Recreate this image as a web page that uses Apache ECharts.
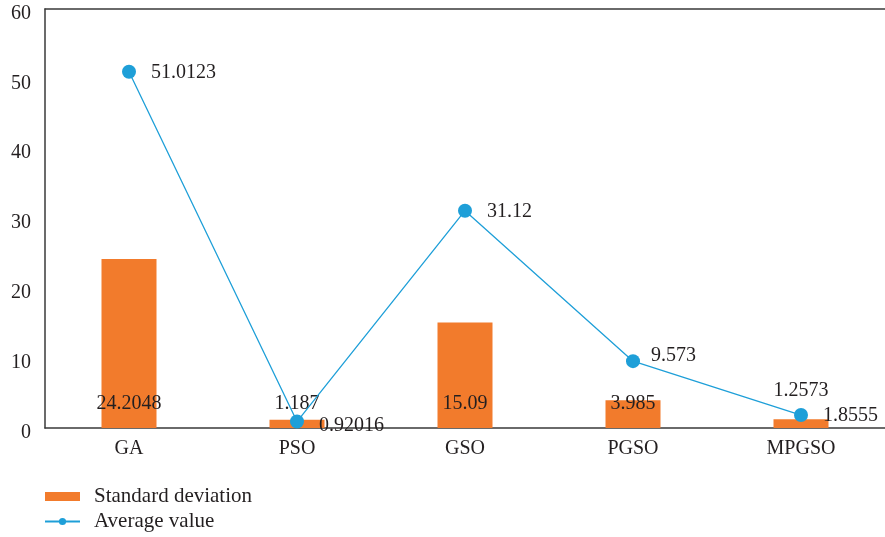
<!DOCTYPE html>
<html><head><meta charset="utf-8">
<script src="https://cdn.jsdelivr.net/npm/echarts@6/dist/echarts.min.js"></script>
<style>html,body{margin:0;padding:0;background:#fff}#c{width:885px;height:537px}</style>
</head><body><div id="c"></div>
<script>
const categories = ['GA', 'PSO', 'GSO', 'PGSO', 'MPGSO'];
const stdDev = [24.2048, 1.187, 15.09, 3.985, 1.2573];
const avgValue = [51.0123, 0.92016, 31.12, 9.573, 1.8555];
const yTicks = [0, 10, 20, 30, 40, 50, 60];

const FONT = "'Liberation Serif', 'DejaVu Serif', serif";
const TXT = '#231f20';
const chart = echarts.init(document.getElementById('c'), null, {renderer: 'canvas'});

const barLabelOffsets = [[0,1],[0,1],[0,1],[0,1],[0,-12]];
const lineLabelOffsets = [[0,1],[0,4],[0,1],[-4,-5],[0,1]];

chart.setOption({
  animation: false,
  textStyle: {fontFamily: FONT},
  grid: {left: 45, right: 0, top: 9, bottom: 109, containLabel: false},
  legend: {
    orient: 'vertical', left: 39, top: 481, itemGap: 4,
    itemWidth: 35, itemHeight: 9,
    textStyle: {fontFamily: FONT, fontSize: 21, color: TXT, padding: [0,0,0,9]},
    data: [
      {name: 'Standard deviation', icon: 'rect'},
      {name: 'Average value'}
    ]
  },
  xAxis: [{
    type: 'category', data: categories, position: 'bottom',
    axisLine: {lineStyle: {color: '#3a3a3a', width: 1.5}},
    axisTick: {show: false},
    axisLabel: {fontFamily: FONT, fontSize: 20, color: TXT, margin: 11}
  }, {
    type: 'category', data: categories, position: 'top',
    axisLine: {show: true, lineStyle: {color: '#3a3a3a', width: 1.5}},
    axisTick: {show: false}, axisLabel: {show: false}
  }],
  yAxis: {
    type: 'value', min: yTicks[0], max: yTicks[yTicks.length-1], interval: 10,
    axisLine: {show: true, lineStyle: {color: '#3a3a3a', width: 1.5}},
    axisTick: {show: false},
    splitLine: {show: false},
    axisLabel: {fontFamily: FONT, fontSize: 20, color: TXT, margin: 14,
      verticalAlign: 'top', lineHeight: 9}
  },
  series: [{
    name: 'Standard deviation', type: 'bar', barWidth: 55,
    itemStyle: {color: '#F27B2C'},
    data: stdDev.map((v, i) => ({value: v, label: {offset: barLabelOffsets[i]}})),
    label: {show: true, position: 'insideBottom', distance: 15,
      fontFamily: FONT, fontSize: 20, color: TXT}
  }, {
    name: 'Average value', type: 'line',
    symbol: 'circle', symbolSize: 14,
    itemStyle: {color: '#1E9FD8'},
    lineStyle: {color: '#1E9FD8', width: 1.3},
    data: avgValue.map((v, i) => ({value: v, label: {offset: lineLabelOffsets[i]}})),
    label: {show: true, position: 'right', distance: 15,
      fontFamily: FONT, fontSize: 20, color: TXT},
    z: 5
  }]
});
</script></body></html>
